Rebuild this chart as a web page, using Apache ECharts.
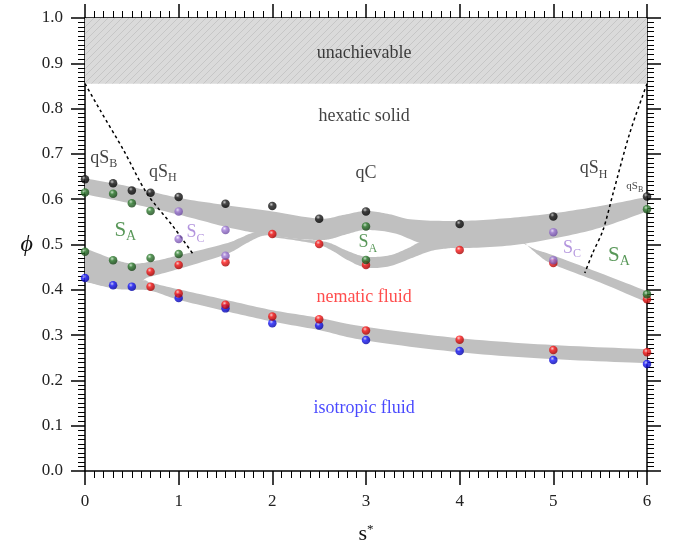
<!DOCTYPE html>
<html>
<head>
<meta charset="utf-8">
<script src="https://cdn.jsdelivr.net/npm/echarts@6/dist/echarts.min.js"></script>
<style>
  html, body { margin: 0; padding: 0; background: #fff; }
  #chart { width: 674px; height: 554px; }
</style>
</head>
<body>
<div id="chart"></div>
<script>
// ---- data ----
const unachievableLow = 0.855

// simulation points (s*, phi)
const blackDots = [[0,0.644],[0.3,0.635],[0.5,0.619],[0.7,0.614],[1,0.605],[1.5,0.590],[2,0.585],[2.5,0.557],[3,0.573],[4,0.545],[5,0.562],[6,0.606]]
const greenDots = [[0,0.615],[0.3,0.612],[0.5,0.591],[0.7,0.574],[0,0.484],[0.3,0.465],[0.5,0.451],[0.7,0.470],[1,0.479],[3,0.540],[3,0.466],[6,0.578],[6,0.390]]
const purpleDots = [[1,0.573],[1.5,0.532],[1,0.512],[1.5,0.475],[5,0.527],[5,0.465]]
const redDots = [[0.7,0.440],[1,0.455],[1.5,0.461],[2,0.523],[2.5,0.501],[3,0.455],[4,0.488],[5,0.459],[6,0.379],
  [0.7,0.407],[1,0.392],[1.5,0.367],[2,0.341],[2.5,0.335],[3,0.310],[4,0.290],[5,0.267],[6,0.262]]
const blueDots = [[0,0.426],[0.3,0.410],[0.5,0.407],[1,0.382],[1.5,0.359],[2,0.326],[2.5,0.321],[3,0.289],[4,0.265],[5,0.245],[6,0.236]]

// phase boundary bands: upper and lower edges
const topBandUpper = [[0,0.646],[0.5,0.627],[1,0.603],[1.5,0.587],[2,0.573],[2.5,0.557],[2.75,0.565],[3,0.574],[3.25,0.567],[3.5,0.555],[4,0.552],[4.5,0.558],[5,0.569],[5.5,0.585],[6,0.605]]
const topBandLower = [[0,0.611],[0.5,0.590],[1,0.566],[1.5,0.539],[1.8,0.526],[2,0.519],[2.3,0.512],[2.5,0.510],[2.62,0.512],[2.8,0.523],[3,0.532],[3.3,0.525],[3.58,0.503],[3.8,0.495],[4,0.492],[4.5,0.497],[5,0.513],[5.5,0.537],[6,0.573]]
const lensUpper = [[2.0,0.520],[2.3,0.512],[2.5,0.508],[2.62,0.503],[2.8,0.486],[3,0.473],[3.25,0.476],[3.45,0.492],[3.6,0.505],[3.9,0.500]]
const lensLower = [[2.0,0.516],[2.25,0.509],[2.5,0.499],[2.65,0.485],[2.8,0.466],[3,0.449],[3.25,0.452],[3.5,0.471],[3.7,0.486],[3.9,0.492]]
const smecticNematicUpper = [[0,0.492],[0.3,0.468],[0.5,0.458],[0.7,0.462],[1,0.476],[1.5,0.502],[1.65,0.514],[1.8,0.526],[1.95,0.525]]
const smecticNematicLower = [[0,0.418],[0.3,0.405],[0.5,0.403],[0.64,0.424],[0.7,0.429],[1,0.446],[1.5,0.478],[1.7,0.500],[1.85,0.516],[1.95,0.521]]
const nematicIsoUpper = [[0,0.430],[0.5,0.420],[0.64,0.421],[0.7,0.416],[1,0.401],[1.5,0.378],[2,0.355],[2.5,0.338],[3,0.318],[4,0.293],[5,0.278],[6,0.269]]
const nematicIsoLower = [[0,0.418],[0.3,0.403],[0.5,0.400],[0.7,0.398],[1,0.378],[1.5,0.353],[2,0.330],[2.5,0.311],[3,0.288],[4,0.262],[5,0.247],[6,0.238]]
const scBandUpper = [[4.6,0.512],[4.8,0.490],[5,0.476],[5.5,0.437],[6,0.397]]
const scBandLower = [[4.68,0.506],[4.85,0.475],[5,0.456],[5.5,0.416],[6,0.372]]

// hexatic boundaries (dashed)
const leftDashed = [[0,0.855],[0.16,0.797],[0.41,0.709],[0.66,0.613],[0.94,0.540],[1.15,0.480]]
const rightDashed = [[6,0.855],[5.816,0.746],[5.638,0.613],[5.531,0.532],[5.42,0.481],[5.336,0.437]]

// region labels: [s*, phi, text, colour key]
const phaseLabels = [
  [2.98, 0.923, '{m|unachievable}', 'black'],
  [2.98, 0.782, '{m|hexatic solid}', 'black'],
  [2.98, 0.384, '{m|nematic fluid}', 'red'],
  [2.98, 0.139, '{m|isotropic fluid}', 'blue'],
  [0.20, 0.691, '{m|qS}{s|B}', 'black'],
  [0.83, 0.660, '{m|qS}{s|H}', 'black'],
  [3.00, 0.658, '{m|qC}', 'black'],
  [5.43, 0.668, '{m|qS}{s|H}', 'black'],
  [5.87, 0.628, '{t|qS}{ts|B}', 'black'],
  [0.43, 0.532, '{L|S}{ls|A}', 'green'],
  [1.18, 0.526, '{m|S}{s|C}', 'purple'],
  [3.02, 0.504, '{m|S}{s|A}', 'green'],
  [5.20, 0.492, '{m|S}{s|C}', 'purple'],
  [5.70, 0.476, '{L|S}{ls|A}', 'green']
]

const colours = {
  black: '#111111',
  green: '#2e7d2e',
  purple: '#a07ad6',
  red: '#ff1f1f',
  blue: '#1a1aff',
  band: '#c0c0c0'
}
const serif = 'Liberation Serif, Times New Roman, DejaVu Serif, serif'

function hatch() {
  const c = document.createElement('canvas')
  c.width = 7
  c.height = 7
  const g = c.getContext('2d')
  g.fillStyle = '#dadada'
  g.fillRect(0, 0, 7, 7)
  g.strokeStyle = '#c6c6c6'
  g.lineWidth = 1
  g.beginPath()
  g.moveTo(-1, 8); g.lineTo(8, -1)
  g.moveTo(-4, 4); g.lineTo(4, -4)
  g.moveTo(3, 11); g.lineTo(11, 3)
  g.stroke()
  return c
}

function sphere(base, light, dark) {
  return {
    type: 'radial', x: 0.38, y: 0.32, r: 0.7,
    colorStops: [
      { offset: 0, color: light },
      { offset: 0.35, color: base },
      { offset: 1, color: dark }
    ]
  }
}

function dots(data, fill) {
  return {
    type: 'scatter',
    data: data,
    symbolSize: 8.5,
    z: 5,
    itemStyle: { color: fill },
    silent: true
  }
}

const bands = [
  [topBandUpper, topBandLower],
  [lensUpper, lensLower],
  [smecticNematicUpper, smecticNematicLower],
  [nematicIsoUpper, nematicIsoLower],
  [scBandUpper, scBandLower]
]

// catmull-rom through the pixel points of one edge, ends kept sharp
function curve(pts) {
  const out = []
  for (let i = 0; i < pts.length - 1; i++) {
    const p0 = pts[i - 1] || pts[i]
    const p1 = pts[i]
    const p2 = pts[i + 1]
    const p3 = pts[i + 2] || pts[i + 1]
    for (let k = 0; k < 12; k++) {
      const t = k / 12, t2 = t * t, t3 = t2 * t
      out.push([0, 1].map(d => 0.5 * (2 * p1[d] + (-p0[d] + p2[d]) * t +
        (2 * p0[d] - 5 * p1[d] + 4 * p2[d] - p3[d]) * t2 +
        (-p0[d] + 3 * p1[d] - 3 * p2[d] + p3[d]) * t3)))
    }
  }
  out.push(pts[pts.length - 1])
  return out
}

function bandItem(params, api) {
  const b = bands[params.dataIndex]
  const up = curve(b[0].map(p => api.coord(p)))
  const lo = curve(b[1].map(p => api.coord(p)))
  return {
    type: 'polygon',
    shape: { points: up.concat(lo.reverse()) },
    style: { fill: colours.band }
  }
}

function axisCommon(showLabel) {
  return {
    type: 'value',
    splitLine: { show: false },
    axisLine: { show: true, onZero: false, lineStyle: { color: '#000', width: 1.5 } },
    axisTick: { show: true, inside: false, length: 14, lineStyle: { color: '#000', width: 1.5 } },
    minorTick: { show: true, splitNumber: 10, length: 7, lineStyle: { color: '#000', width: 1 } },
    axisLabel: { show: showLabel, fontFamily: serif, fontSize: 17, color: '#222', margin: 22 }
  }
}

const chart = echarts.init(document.getElementById('chart'))

const labelRich = {
  m: { fontSize: 18, lineHeight: 24, fontFamily: serif },
  s: { fontSize: 12, lineHeight: 12, verticalAlign: 'bottom', fontFamily: serif },
  L: { fontSize: 21, lineHeight: 26, fontFamily: serif },
  ls: { fontSize: 14, lineHeight: 14, verticalAlign: 'bottom', fontFamily: serif },
  t: { fontSize: 11, lineHeight: 14, fontFamily: serif },
  ts: { fontSize: 8, lineHeight: 8, verticalAlign: 'bottom', fontFamily: serif }
}

chart.setOption({
  animation: false,
  grid: { left: 85, right: 27, top: 18, bottom: 83 },
  xAxis: [
    Object.assign(axisCommon(true), {
      min: 0, max: 6, interval: 1, position: 'bottom',
      name: '{a|s}{b|*}',
      nameLocation: 'middle',
      nameGap: 52,
      nameTextStyle: {
        rich: {
          a: { fontSize: 22, lineHeight: 22, fontFamily: serif, color: '#111' },
          b: { fontSize: 13, lineHeight: 13, verticalAlign: 'top', fontFamily: serif, color: '#111' }
        }
      }
    }),
    Object.assign(axisCommon(false), { min: 0, max: 6, interval: 1, position: 'top' })
  ],
  yAxis: [
    Object.assign(axisCommon(true), {
      min: 0, max: 1, interval: 0.1, position: 'left',
      axisLabel: { show: true, fontFamily: serif, fontSize: 17, color: '#222', margin: 22, formatter: v => v.toFixed(1) },
      name: 'ϕ',
      nameLocation: 'middle',
      nameRotate: 0,
      nameGap: 52,
      nameTextStyle: { fontFamily: serif, fontStyle: 'italic', fontSize: 24, color: '#111' }
    }),
    Object.assign(axisCommon(false), { min: 0, max: 1, interval: 0.1, position: 'right' })
  ],
  series: [
    {
      type: 'custom',
      z: 1,
      silent: true,
      clip: true,
      data: [[0, unachievableLow]],
      renderItem: (params, api) => {
        const a = api.coord([0, 1])
        const b = api.coord([6, unachievableLow])
        return {
          type: 'rect',
          shape: { x: a[0], y: a[1], width: b[0] - a[0], height: b[1] - a[1] },
          style: { fill: { image: hatch(), repeat: 'repeat' } }
        }
      }
    },
    {
      type: 'custom',
      z: 2,
      silent: true,
      clip: true,
      data: bands.map((b, i) => [i, 0]),
      renderItem: bandItem
    },
    {
      type: 'line', data: leftDashed, smooth: 0.3, showSymbol: false, z: 3, silent: true,
      lineStyle: { color: '#000', width: 1.5, type: [3, 3] }
    },
    {
      type: 'line', data: rightDashed, smooth: 0.3, showSymbol: false, z: 3, silent: true,
      lineStyle: { color: '#000', width: 1.5, type: [3, 3] }
    },
    dots(blueDots, sphere('#1a1aff', '#c8c8ff', '#0000a0')),
    dots(redDots, sphere('#ff1a1a', '#ffd0d0', '#a00000')),
    dots(greenDots, sphere('#2e7d2e', '#c8e8c8', '#144014')),
    dots(purpleDots, sphere('#a07ad6', '#eee4ff', '#6a48a0')),
    dots(blackDots, sphere('#1a1a1a', '#bbbbbb', '#000000')),
    {
      type: 'scatter',
      symbolSize: 0,
      z: 6,
      silent: true,
      data: phaseLabels.map(l => ({
        value: [l[0], l[1]],
        label: {
          show: true,
          position: 'inside',
          formatter: l[2],
          color: colours[l[3]],
          rich: labelRich
        }
      }))
    }
  ]
})
</script>
</body>
</html>
